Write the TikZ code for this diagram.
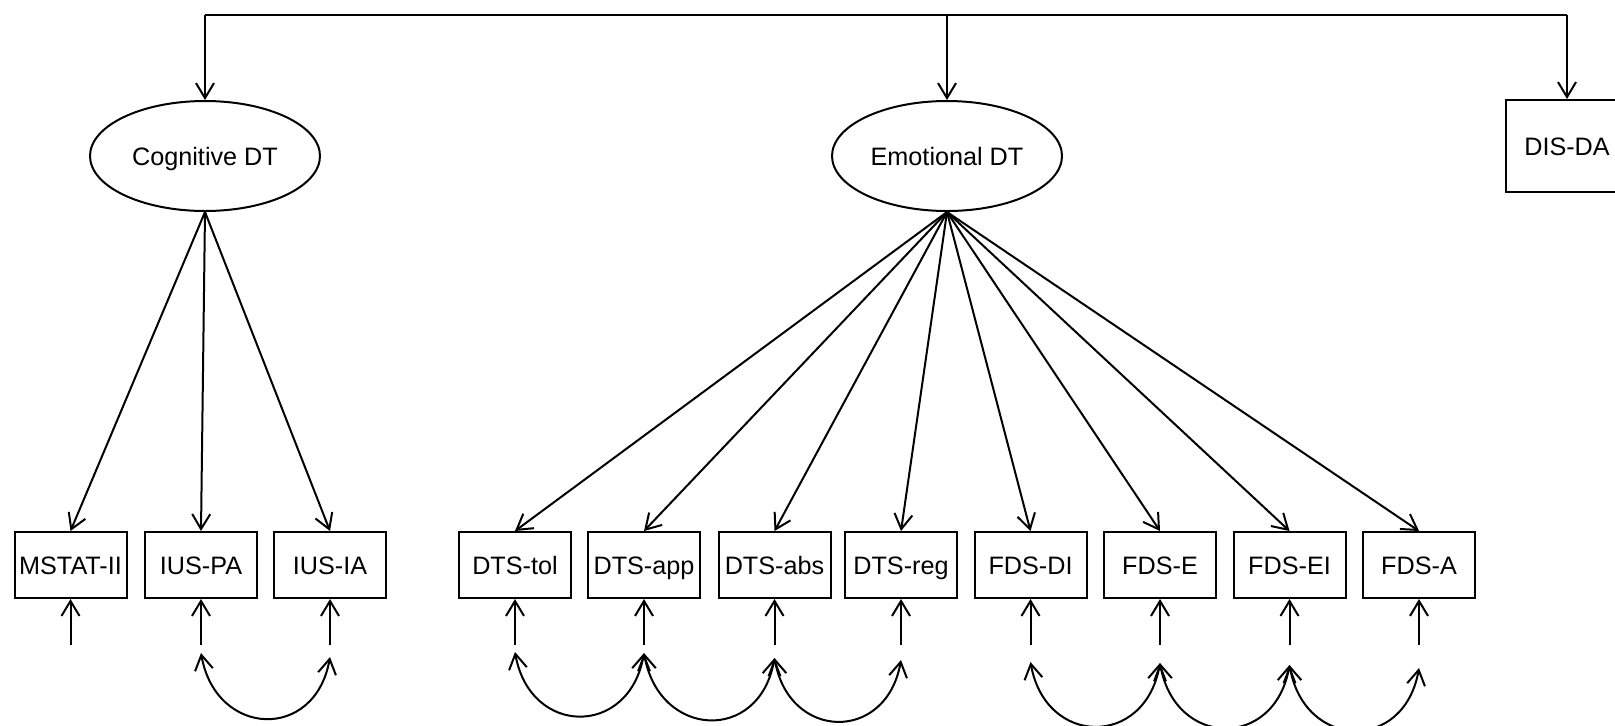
\documentclass[tikz,border=0pt]{standalone}
\usepackage{fontspec}
\setmainfont{Liberation Sans}
\usetikzlibrary{arrows.meta,shapes.geometric}
\tikzset{every node/.style={font=\fontsize{12.6pt}{15pt}\selectfont},
	obs/.style={draw,rectangle,line width=1pt,minimum width=56pt,minimum height=33pt,inner sep=1pt,text height=9pt,text depth=0pt},
	latent/.style={draw,ellipse,line width=1pt,minimum width=115pt,minimum height=55pt,inner sep=1pt,text height=9pt,text depth=0pt},
	link/.style={line width=1pt},
	covar/.style={link,<->,out=-80,in=-100,looseness=1.7},
	>={Straight Barb[length=7.5pt,width=9pt]}}

\begin{document}
\begin{tikzpicture}[x=0.5pt,y=-0.5pt]
	\clip (0,0) rectangle (1615,725);
	\node[latent] (cog) at (205,156) {Cognitive DT};
	\node[latent] (emo) at (947,156) {Emotional DT};
	\node[obs,minimum width=61pt,minimum height=46pt] (disda) at (1567,146) {DIS-DA};
	\node[obs] (mstat) at (70.5,565) {MSTAT-II};
	\node[obs] (iuspa) at (201,565) {IUS-PA};
	\node[obs] (iusia) at (330,565) {IUS-IA};
	\node[obs] (dtstol) at (515,565) {DTS-tol};
	\node[obs] (dtsapp) at (644,565) {DTS-app};
	\node[obs] (dtsabs) at (774.5,565) {DTS-abs};
	\node[obs] (dtsreg) at (901,565) {DTS-reg};
	\node[obs] (fdsdi) at (1030.5,565) {FDS-DI};
	\node[obs] (fdse) at (1160,565) {FDS-E};
	\node[obs] (fdsei) at (1289.5,565) {FDS-EI};
	\node[obs] (fdsa) at (1419,565) {FDS-A};
	% top line
	\coordinate (top) at (0,15);
	\draw[link] (top -| cog.north) -- (top -| disda.north);
	\draw[link,->] (top -| cog.north) -- (cog.north);
	\draw[link,->] (top -| emo.north) -- (emo.north);
	\draw[link,->] (top -| disda.north) -- (disda.north);
	% loadings
	\draw[link,->] (cog.south) -- (mstat.north);
	\draw[link,->] (cog.south) -- (iuspa.north);
	\draw[link,->] (cog.south) -- (iusia.north);
	\draw[link,->] (emo.south) -- (dtstol.north);
	\draw[link,->] (emo.south) -- (dtsapp.north);
	\draw[link,->] (emo.south) -- (dtsabs.north);
	\draw[link,->] (emo.south) -- (dtsreg.north);
	\draw[link,->] (emo.south) -- (fdsdi.north);
	\draw[link,->] (emo.south) -- (fdse.north);
	\draw[link,->] (emo.south) -- (fdsei.north);
	\draw[link,->] (emo.south) -- (fdsa.north);
	% errors
	\coordinate (mstat-e) at (70.5,645);
	\coordinate (iuspa-e) at (201,645);
	\coordinate (iusia-e) at (330,645);
	\coordinate (dtstol-e) at (515,645);
	\coordinate (dtsapp-e) at (644,645);
	\coordinate (dtsabs-e) at (774.5,645);
	\coordinate (dtsreg-e) at (901,645);
	\coordinate (fdsdi-e) at (1030.5,645);
	\coordinate (fdse-e) at (1160,645);
	\coordinate (fdsei-e) at (1289.5,645);
	\coordinate (fdsa-e) at (1419,645);
	\draw[link,->] (mstat-e) -- (mstat.south);
	\draw[link,->] (iuspa-e) -- (iuspa.south);
	\draw[link,->] (iusia-e) -- (iusia.south);
	\draw[link,->] (dtstol-e) -- (dtstol.south);
	\draw[link,->] (dtsapp-e) -- (dtsapp.south);
	\draw[link,->] (dtsabs-e) -- (dtsabs.south);
	\draw[link,->] (dtsreg-e) -- (dtsreg.south);
	\draw[link,->] (fdsdi-e) -- (fdsdi.south);
	\draw[link,->] (fdse-e) -- (fdse.south);
	\draw[link,->] (fdsei-e) -- (fdsei.south);
	\draw[link,->] (fdsa-e) -- (fdsa.south);
	% covariances
	\coordinate (iuspa-c) at (201,653);
	\coordinate (iusia-c) at (330,657);
	\coordinate (dtstol-c) at (515,652);
	\coordinate (dtsapp-c) at (644,653);
	\coordinate (dtsabs-c) at (774.5,658);
	\coordinate (dtsreg-c) at (901,660);
	\coordinate (fdsdi-c) at (1030.5,662);
	\coordinate (fdse-c) at (1160,663);
	\coordinate (fdsei-c) at (1289.5,665);
	\coordinate (fdsa-c) at (1419,668);
	\draw[covar] (iuspa-c) to (iusia-c);
	\draw[covar] (dtstol-c) to (dtsapp-c);
	\draw[covar] (dtsapp-c) to (dtsabs-c);
	\draw[covar] (dtsabs-c) to (dtsreg-c);
	\draw[covar] (fdsdi-c) to (fdse-c);
	\draw[covar] (fdse-c) to (fdsei-c);
	\draw[covar] (fdsei-c) to (fdsa-c);
\end{tikzpicture}
\end{document}
